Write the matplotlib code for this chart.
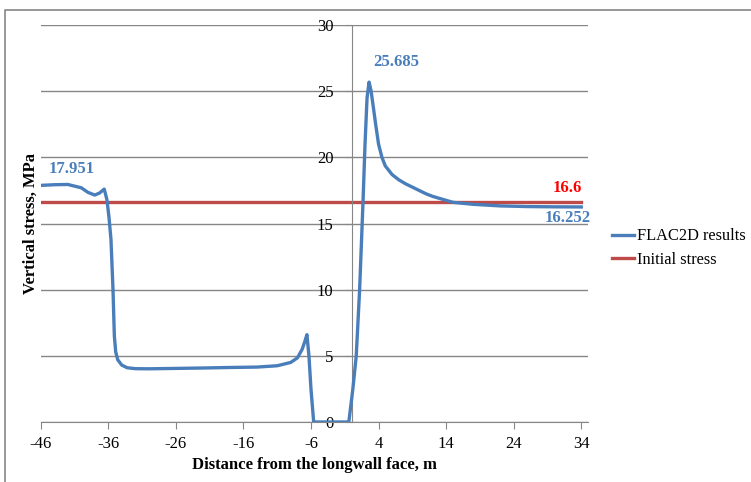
import matplotlib
matplotlib.use("Agg")
import matplotlib.pyplot as plt
from matplotlib.lines import Line2D

# distance from the longwall face (m) and FLAC2D vertical stress (MPa)
distance = [-46, -44, -42, -40, -39, -38, -37.3, -36.6, -36.2, -35.9, -35.6, -35.3,
            -35.1, -34.9, -34.6, -34.0, -33.2, -32, -30, -26, -22, -18, -14, -11,
            -9, -8, -7.3, -6.9, -6.6, -6.3, -6.0, -5.6, -0.4, 0.2, 0.7, 1.2, 1.7,
            2.0, 2.3, 2.6, 2.9, 3.2, 3.6, 4.0, 4.5, 5.0, 6, 7, 8, 9, 10, 11, 12, 13,
            15, 18, 22, 26, 30, 34]
stress = [17.88, 17.93, 17.95, 17.7, 17.35, 17.15, 17.3, 17.6, 16.8, 15.5, 13.8, 10.0,
          6.5, 5.3, 4.7, 4.3, 4.1, 4.03, 4.02, 4.05, 4.08, 4.12, 4.15, 4.25,
          4.5, 4.85, 5.5, 6.1, 6.6, 5.0, 2.5, 0.0, 0.0, 2.5, 5.0, 10.0, 16.6,
          21.0, 24.5, 25.685, 25.0, 23.9, 22.4, 21.0, 20.0, 19.35, 18.7, 18.3, 18.0,
          17.75, 17.5, 17.25, 17.05, 16.9, 16.6, 16.45, 16.33, 16.28, 16.26, 16.25]
initial_x = [-46, 34]
initial_stress = [16.6, 16.6]

x_ticks = [-46, -36, -26, -16, -6, 4, 14, 24, 34]
y_ticks = [0, 5, 10, 15, 20, 25, 30]

blue = "#4A7EBB"
red = "#BE4B48"
grey = "#868686"

plt.rcParams["font.family"] = ["Liberation Serif", "DejaVu Serif"]
plt.rcParams["axes.unicode_minus"] = False

fig = plt.figure(figsize=(7.51, 4.82), dpi=100)
ax = fig.add_axes([40.7 / 751, 60 / 482, (588 - 40.7) / 751, (422 - 25) / 482])

ax.plot(distance, stress, color=blue, lw=2.4, label="FLAC2D results",
        solid_joinstyle="round", zorder=3)
ax.plot(initial_x, initial_stress, color=red, lw=2.4, label="Initial stress", zorder=2)

ax.set_xlim(-46, 35)
ax.set_ylim(0, 30)
ax.set_xticks(x_ticks)
ax.set_yticks(y_ticks)
ax.yaxis.grid(True, color=grey, lw=1)
ax.set_axisbelow(True)

for s in ("top", "right"):
    ax.spines[s].set_visible(False)
ax.spines["left"].set_position(("data", 0))
ax.spines["left"].set_color(grey)
ax.spines["bottom"].set_color(grey)
ax.tick_params(axis="x", direction="out", length=5, color=grey, labelsize=12, pad=5)
ax.tick_params(axis="y", direction="out", length=5, color=grey, labelsize=12, pad=8)

# data labels
ax.text(-41.4, 19.1, "17.951", color=blue, fontsize=12, fontweight="bold",
        ha="center", va="center")
ax.text(6.6, 27.2, "25.685", color=blue, fontsize=12, fontweight="bold",
        ha="center", va="center")
ax.text(32, 17.65, "16.6", color="red", fontsize=12, fontweight="bold",
        ha="center", va="center")
ax.text(32, 15.4, "16.252", color=blue, fontsize=12, fontweight="bold",
        ha="center", va="center")

fig.text(314 / 751, 1 - 465 / 482, "Distance from the longwall face, m",
         fontsize=12, fontweight="bold", ha="center", va="center")
fig.text(31 / 751, 1 - 223 / 482, "Vertical stress, MPa", fontsize=12,
         fontweight="bold", rotation=90, ha="center", va="center")

fig.legend(loc="center left", bbox_to_anchor=(612 / 751, 1 - 248 / 482),
           frameon=False, fontsize=11.8, handlelength=1.35, handletextpad=0.2,
           labelspacing=0.45, borderaxespad=0, borderpad=0)

# outer chart border (left and top visible)
fig.add_artist(Line2D([5 / 751, 5 / 751, 1], [0, 1 - 10 / 482, 1 - 10 / 482],
                      transform=fig.transFigure, color=grey, lw=1.2))

fig.savefig("out.png", dpi=100)
